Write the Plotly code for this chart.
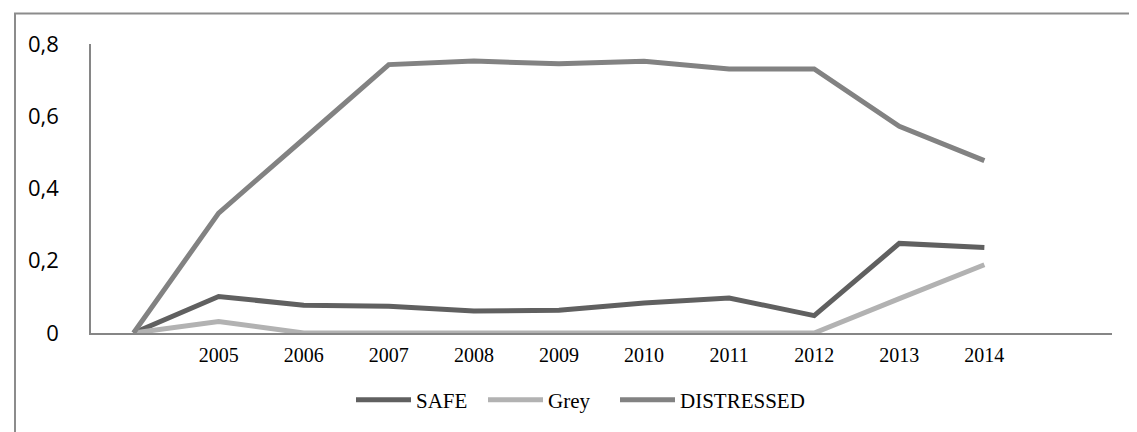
import plotly.graph_objects as go

categories = ["", "2005", "2006", "2007", "2008", "2009", "2010", "2011", "2012", "2013", "2014", ""]
safe = [0, 0.101, 0.077, 0.074, 0.061, 0.063, 0.083, 0.097, 0.048, 0.248, 0.237]
grey = [0, 0.032, 0.0, 0.0, 0.0, 0.0, 0.0, 0.0, 0.0, 0.095, 0.189]
distressed = [0, 0.332, 0.537, 0.743, 0.753, 0.745, 0.752, 0.731, 0.731, 0.572, 0.477]
y_ticks = [0, 0.2, 0.4, 0.6, 0.8]

series = [
    ("SAFE", safe, "#606060", None),
    ("Grey", grey, "#b2b2b2", None),
    ("DISTRESSED", distressed, "#828282", 140),
]

xpos = list(range(len(categories)))

fig = go.Figure()
for name, vals, color, lw in series:
    fig.add_trace(go.Scatter(
        x=xpos[:len(vals)], y=vals, name=name, mode="lines",
        line=dict(color=color, width=5), legendwidth=lw,
    ))

W, H = 1137, 432
L, R, T, B = 83, 33, 36, 107
pw = W - L - R
ph = H - T - B

def px_x(p):
    return (p - L) / pw

def px_y(p):
    return (H - B - p) / ph

fig.update_layout(
    width=W, height=H,
    margin=dict(l=L, r=R, t=T, b=B),
    paper_bgcolor="white", plot_bgcolor="white",
    separators=", ",
    showlegend=True,
    legend=dict(
        orientation="h", x=px_x(343), xanchor="left", y=px_y(392), yanchor="middle",
        font=dict(family="Liberation Serif", size=21, color="#000000"),
        itemwidth=55, entrywidth=62, entrywidthmode="pixels",
        traceorder="normal", bgcolor="rgba(0,0,0,0)",
    ),
    xaxis=dict(
        range=[-0.5, len(categories) - 0.5],
        tickvals=xpos, ticktext=categories,
        showgrid=False, zeroline=False,
        showline=True, linecolor="#868686", linewidth=1.5,
        ticks="", ticklabelstandoff=3,
        tickfont=dict(family="Liberation Serif", size=20, color="#000000"),
    ),
    yaxis=dict(
        range=[0, 0.8], tickvals=y_ticks,
        showgrid=False, zeroline=False,
        showline=True, linecolor="#868686", linewidth=1.5,
        ticks="", ticklabelstandoff=26,
        tickfont=dict(family="Open Sans", size=22, color="#000000"),
    ),
    shapes=[dict(
        type="rect", xref="paper", yref="paper",
        x0=px_x(7), x1=px_x(1145), y0=px_y(445), y1=px_y(5.5),
        line=dict(color="#8c8c8c", width=2), fillcolor="rgba(0,0,0,0)", layer="below",
    )],
)

fig.write_html("out.html")
